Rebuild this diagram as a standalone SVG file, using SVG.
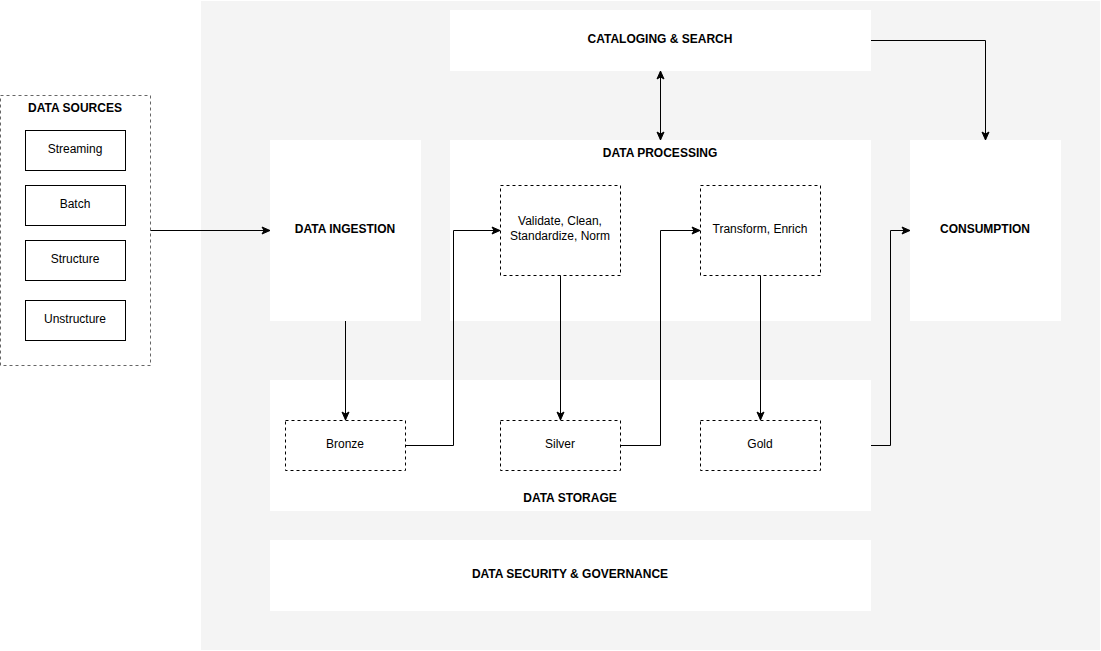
<svg xmlns="http://www.w3.org/2000/svg" width="1101" height="651" viewBox="0 0 1101 651">
<defs>
<marker id="arr" viewBox="0 0 10 10" refX="9" refY="5" markerWidth="10" markerHeight="10" markerUnits="userSpaceOnUse" orient="auto-start-reverse">
<path d="M1,1.5 L9,5 L1,8.5 L3,5 Z" fill="#000" stroke="#000" stroke-width="1"/>
</marker>
<style>
text{font-family:"Liberation Sans",Arial,sans-serif;font-size:12px;fill:#000;text-anchor:middle;dominant-baseline:central}
.b{font-weight:bold}
.panel{fill:#fff;stroke:none}
.dash{fill:#fff;stroke:#000;stroke-dasharray:3 3}
.solid{fill:#fff;stroke:#000}
.conn path{fill:none;stroke:#000;stroke-width:1}
</style>
</defs>
<rect x="201" y="1" width="899" height="649" fill="#f4f4f4"/>
<g id="sources">
<rect x="0.5" y="95.5" width="150" height="270" fill="#fff" stroke="#666" stroke-dasharray="3 3"/>
<text class="b" x="75" y="108">DATA SOURCES</text>
</g>
<g id="streaming"><rect class="solid" x="25.5" y="130.5" width="100" height="40"/><text x="75" y="149">Streaming</text></g>
<g id="batch"><rect class="solid" x="25.5" y="185.5" width="100" height="40"/><text x="75" y="204">Batch</text></g>
<g id="structure"><rect class="solid" x="25.5" y="240.5" width="100" height="40"/><text x="75" y="259">Structure</text></g>
<g id="unstructure"><rect class="solid" x="25.5" y="300.5" width="100" height="40"/><text x="75" y="319">Unstructure</text></g>
<g id="catalog"><rect class="panel" x="450" y="10" width="421" height="61"/><text class="b" x="660" y="39">CATALOGING &amp; SEARCH</text></g>
<g id="ingestion"><rect class="panel" x="270" y="140" width="151" height="181"/><text class="b" x="345" y="229">DATA INGESTION</text></g>
<g id="processing"><rect class="panel" x="450" y="140" width="421" height="181"/><text class="b" x="660" y="153">DATA PROCESSING</text></g>
<g id="consumption"><rect class="panel" x="910" y="140" width="151" height="181"/><text class="b" x="985" y="229">CONSUMPTION</text></g>
<g id="storage"><rect class="panel" x="270" y="380" width="601" height="131"/><text class="b" x="570" y="498">DATA STORAGE</text></g>
<g id="security"><rect class="panel" x="270" y="540" width="601" height="71"/><text class="b" x="570" y="574">DATA SECURITY &amp; GOVERNANCE</text></g>
<g id="validate"><rect class="dash" x="500.5" y="185.5" width="120" height="90"/><text x="560" y="221">Validate, Clean,</text><text x="560" y="236">Standardize, Norm</text></g>
<g id="transform"><rect class="dash" x="700.5" y="185.5" width="120" height="90"/><text x="760" y="229">Transform, Enrich</text></g>
<g id="bronze"><rect class="dash" x="285.5" y="420.5" width="120" height="50"/><text x="345" y="444">Bronze</text></g>
<g id="silver"><rect class="dash" x="500.5" y="420.5" width="120" height="50"/><text x="560" y="444">Silver</text></g>
<g id="gold"><rect class="dash" x="700.5" y="420.5" width="120" height="50"/><text x="760" y="444">Gold</text></g>
<g id="connectors" class="conn">
<path d="M150.5,230.5 H270" marker-end="url(#arr)"/>
<path d="M345.5,321 V420" marker-end="url(#arr)"/>
<path d="M405.5,445.5 H453.5 V230.5 H500" marker-end="url(#arr)"/>
<path d="M560.5,275.5 V420" marker-end="url(#arr)"/>
<path d="M620.5,445.5 H660.5 V230.5 H700" marker-end="url(#arr)"/>
<path d="M760.5,275.5 V420" marker-end="url(#arr)"/>
<path d="M871,445.5 H890.5 V230.5 H910" marker-end="url(#arr)"/>
<path d="M871,40.5 H985.5 V140" marker-end="url(#arr)"/>
<path d="M660.5,71 V140" marker-start="url(#arr)" marker-end="url(#arr)"/>
</g>
</svg>
